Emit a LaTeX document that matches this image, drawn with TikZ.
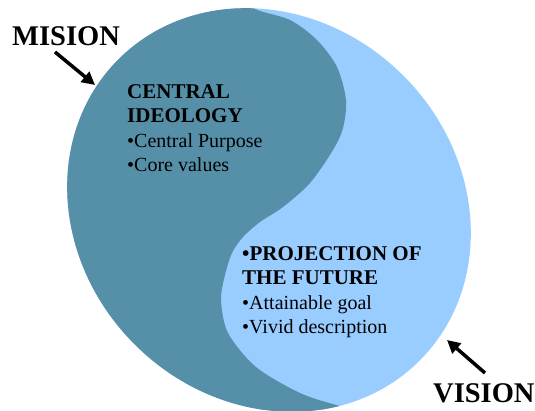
\documentclass[tikz,border=0pt]{standalone}
\usepackage{fontspec}
\setmainfont{Liberation Serif}
\usetikzlibrary{arrows.meta}
\definecolor{ideology}{RGB}{85,144,168}
\definecolor{future}{RGB}{153,204,255}
\newcommand{\blockhead}[1]{{\fontsize{21}{24.5}\selectfont\bfseries #1}}

\begin{document}
\begin{tikzpicture}[x=1pt,y=-1pt,
    bigword/.style={font=\fontsize{28.5}{30}\selectfont\bfseries,
        anchor=base west, inner sep=0pt},
    block/.style={font=\fontsize{20}{24.5}\selectfont, align=left,
        anchor=north west, inner sep=0pt},
    pointer/.style={line width=3.5pt, -{Triangle[length=13pt,width=13pt]}}]
    \useasboundingbox (0,0) rectangle (535,410);

    % the two halves
    \begin{scope}
        \clip[rotate around={-45:(269,210)}] (269,210) ellipse [x radius=213pt, y radius=190pt];
        \fill[future] (0,0) rectangle (535,410);
        \fill[ideology] plot[smooth] coordinates {(225,-10) (255,9) (290,20)
            (317,40) (337,67) (346,100) (343,128) (333,150) (310,183) (283,207)
            (260,222) (243,237) (232,253) (225,275) (221,300) (228,333) (256,367)
            (300,393) (340,406) (390,418)}
            -- (0,420) -- (0,-10) -- cycle;
    \end{scope}

    % texts
    \node[block] (ideology) at (127,84) {\blockhead{CENTRAL}\\\blockhead{IDEOLOGY}\\
        •Central Purpose\\•Core values};
    \node[block] (future) at (242,246) {\blockhead{•PROJECTION OF}\\
        \blockhead{THE FUTURE}\\•Attainable goal\\•Vivid description};

    \node[bigword] (mision) at (12,45) {MISION};
    \node[bigword] (vision) at (433,402) {VISION};

    % pointers
    \coordinate (mtail) at (55,52);
    \coordinate (mtip) at (95,85);
    \coordinate (vtail) at (485,373);
    \coordinate (vtip) at (447,340);
    \draw[pointer] (mtail) -- (mtip);
    \draw[pointer] (vtail) -- (vtip);
\end{tikzpicture}
\end{document}
